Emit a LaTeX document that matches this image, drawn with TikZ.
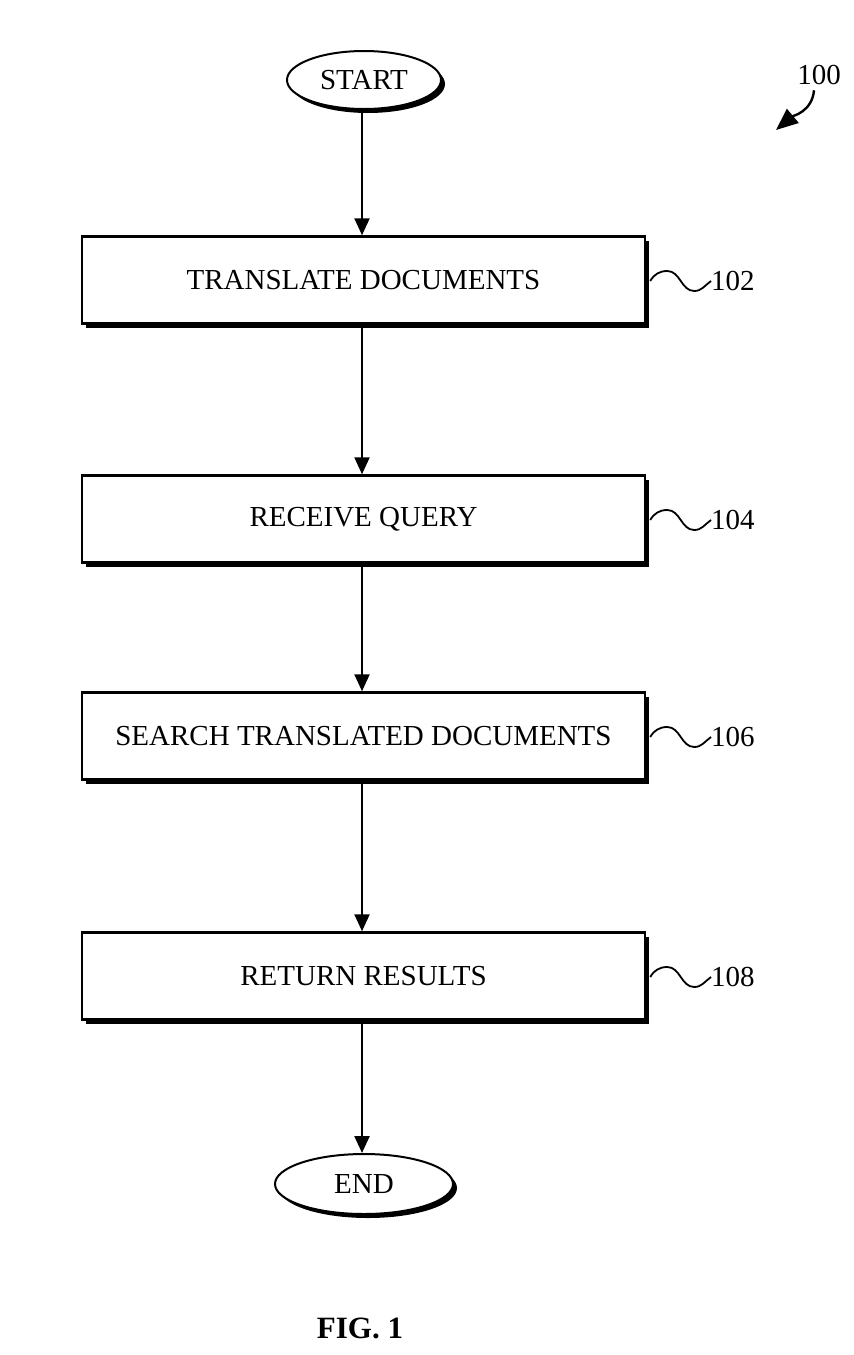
\documentclass[tikz,border=0pt]{standalone}
\usepackage{fontspec}
\setmainfont{Liberation Serif}
\usetikzlibrary{arrows.meta,shapes.geometric,shadows,positioning}
\begin{document}
\begin{tikzpicture}[x=1pt,y=1pt,
  every node/.style={font=\fontsize{29}{34}\selectfont},
  stepbox/.style={draw,line width=2.5pt,fill=white,minimum width=563pt,minimum height=87pt,inner sep=0pt,
    general shadow={fill=black,shadow xshift=4pt,shadow yshift=-4pt}},
  terminal/.style={draw,ellipse,line width=2pt,fill=white,inner sep=0pt,
    general shadow={fill=black,shadow xshift=4pt,shadow yshift=-4pt}},
  flow/.style={line width=2.4pt,-{Triangle[length=17pt,width=15pt]}},
  refline/.style={line width=1.8pt},
  reflabel/.style={anchor=west,inner sep=0pt}]
\useasboundingbox (0,0) rectangle (854,-1355);

\node[terminal,minimum width=154pt,minimum height=58pt] (start) at (364,-80) {START};
\node[stepbox] (b1) at (363.5,-280) {TRANSLATE DOCUMENTS};
\node[stepbox] (b2) at (363.5,-519) {RECEIVE QUERY};
\node[stepbox] (b3) at (363.5,-736) {SEARCH TRANSLATED DOCUMENTS};
\node[stepbox] (b4) at (363.5,-976) {RETURN RESULTS};
\node[terminal,minimum width=178pt,minimum height=60pt] (end) at (364,-1184) {END};

\draw[flow] (start.south -| 362,0) -- (b1.north -| 362,0);
\draw[flow] (b1.south -| 362,0) -- (b2.north -| 362,0);
\draw[flow] (b2.south -| 362,0) -- (b3.north -| 362,0);
\draw[flow] (b3.south -| 362,0) -- (b4.north -| 362,0);
\draw[flow] (b4.south -| 362,0) -- (end.north -| 362,0);

\node[reflabel] (l102) at (711,-281) {102};
\node[reflabel] (l104) at (711,-520) {104};
\node[reflabel] (l106) at (711,-737) {106};
\node[reflabel] (l108) at (711,-977) {108};
\foreach \b/\l in {b1/l102,b2/l104,b3/l106,b4/l108}{
  \draw[refline] ([xshift=4pt]\b.east |- \l.west) to[out=60,in=180] ++(17,10)
     to[out=0,in=180] ++(27,-20) to[out=0,in=215] (\l.west);
}

\node (n100) at (819,-75) {100};
\coordinate (tip100) at (776,-130);
\draw[line width=2.4pt,-{Triangle[length=22pt,width=18pt]}] ([xshift=-5pt,yshift=-2pt]n100.south)
   to[out=-95,in=40] (tip100);

\node[font=\fontsize{31}{36}\selectfont\bfseries] (fig) at (360,-1328) {FIG. 1};
\end{tikzpicture}
\end{document}
